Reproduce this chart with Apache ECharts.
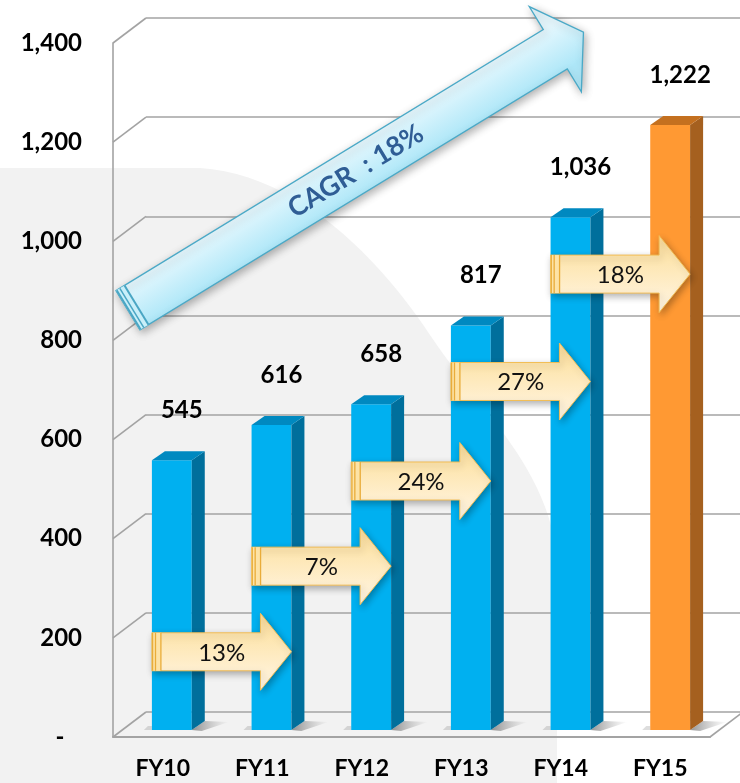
<!DOCTYPE html>
<html><head><meta charset="utf-8">
<script src="https://cdn.jsdelivr.net/npm/echarts@6/dist/echarts.min.js"></script>
<style>html,body{margin:0;padding:0;background:#fff}#c{width:740px;height:783px}</style>
</head><body><div id="c"></div>
<script>
// ---- data ----
const categories = ['FY10', 'FY11', 'FY12', 'FY13', 'FY14', 'FY15'];
const revenue = [545, 616, 658, 817, 1036, 1222];
const growthLabels = ['13%', '7%', '24%', '27%', '18%'];
const growthLevels = [158, 331, 503, 704, 921];
const yTicks = [0, 200, 400, 600, 800, 1000, 1200, 1400];
const cagrText = ['CAGR  : 18%'];
const cagrStart = [0, 848];
const cagrEnd = [4, 1410];

// ---- layout ----
const DX = 33, DY = 25;
const FRONT = {left: 113, top: 43, right: 30, bottom: 46};
const BACK = {left: FRONT.left + DX, top: FRONT.top - DY, right: 0, bottom: FRONT.bottom + DY};
const BARS = {left: 122, top: 37, right: 20, bottom: 53};
const FONT = 'Lato, "Open Sans", sans-serif';
const GRID_COLOR = '#a3a3a3';

// decorative background shape (slide backdrop)
function bez(p0, p1, p2, p3, n) {
  const out = [];
  for (let k = 1; k <= n; k++) {
    const t = k / n, s = 1 - t;
    out.push([s*s*s*p0[0] + 3*s*s*t*p1[0] + 3*s*t*t*p2[0] + t*t*t*p3[0],
              s*s*s*p0[1] + 3*s*s*t*p1[1] + 3*s*t*t*p2[1] + t*t*t*p3[1]]);
  }
  return out;
}
const bgPts = [[0, 168], [200, 168]]
  .concat(bez([200, 168], [300, 175], [380, 260], [430, 335], 24))
  .concat(bez([430, 335], [480, 410], [550, 470], [557, 560], 24))
  .concat([[557, 783], [0, 783]]);

const chart = echarts.init(document.getElementById('c'), null, {renderer: 'canvas'});

function fmt(v) { return v.toLocaleString('en-US'); }

const option = {
  backgroundColor: '#ffffff',
  animation: false,
  graphic: {
    elements: [{
      type: 'polygon', z: -100, silent: true,
      shape: {points: bgPts},
      style: {fill: '#f2f2f2'}
    }]
  },
  grid: [
    Object.assign({containLabel: false}, BACK),
    Object.assign({containLabel: false}, FRONT),
    Object.assign({containLabel: false}, BARS)
  ],
  xAxis: [
    {gridIndex: 0, type: 'value', min: 0, max: 1, show: false},
    {gridIndex: 1, type: 'category', data: categories,
      axisLine: {lineStyle: {color: GRID_COLOR, width: 2}}, axisTick: {show: false},
      axisLabel: {margin: 20, fontFamily: FONT, fontWeight: 'bold', fontSize: 23, color: '#000'}},
    {gridIndex: 2, type: 'category', data: categories, show: false}
  ],
  yAxis: [
    {gridIndex: 0, type: 'value', min: 0, max: 1400, interval: 200,
      axisLine: {show: false}, axisTick: {show: false}, axisLabel: {show: false},
      splitLine: {lineStyle: {color: GRID_COLOR, width: 1.6}}},
    {gridIndex: 1, type: 'value', min: 0, max: 1400, interval: 200,
      axisLine: {show: true, lineStyle: {color: GRID_COLOR, width: 1.6}}, axisTick: {show: false},
      splitLine: {show: false},
      axisLabel: {margin: 31, padding: [6, 0, 0, 0], fontFamily: FONT, fontWeight: 'bold', fontSize: 24, color: '#000',
        formatter: v => v === 0 ? '-   ' : fmt(v)}},
    {gridIndex: 2, type: 'value', min: 0, max: 1400, show: false}
  ],
  series: [
    // side-wall depth lines
    {
      type: 'custom', xAxisIndex: 1, yAxisIndex: 1, clip: false, z: 1, silent: true,
      data: yTicks.map(v => [0, v]),
      renderItem: function (params, api) {
        const cs = params.coordSys;
        const v = api.value(1);
        const y = api.coord([0, v])[1];
        const children = [{type: 'line', shape: {x1: cs.x, y1: y, x2: cs.x + DX, y2: y - DY},
          style: {stroke: GRID_COLOR, lineWidth: 1.6}}];
        if (v === 0) {
          children.push({type: 'line', shape: {x1: cs.x + cs.width, y1: y, x2: cs.x + cs.width + DX, y2: y - DY},
            style: {stroke: GRID_COLOR, lineWidth: 1.6}});
        }
        return {type: 'group', children: children};
      }
    },
    // 3D bars
    {
      type: 'custom', xAxisIndex: 2, yAxisIndex: 2, clip: false, z: 3, silent: true,
      data: revenue.map((v, i) => [i, v]),
      renderItem: function (params, api) {
        const i = api.value(0), v = api.value(1);
        const base = api.coord([i, 0]);
        const top = api.coord([i, v]);
        const band = api.size([1, 0])[0];
        const w = band * 0.4;
        const dx = 13, dy = 9;
        const xl = base[0] - w / 2, xr = base[0] + w / 2;
        const y0 = base[1], y1 = top[1];
        const last = i === revenue.length - 1;
        const cFront = last ? '#ff9933' : '#00b0f0';
        const cSide = last ? '#a5601f' : '#006f9c';
        const cTop = last ? '#c4701f' : '#0089c0';
        return {
          type: 'group', children: [
            {type: 'polygon', shape: {points: [[xr, y0], [xr + dx, y0 - dy], [xr + dx + 24, y0 - dy + 1], [xr + 10, y0 + 1]]},
              style: {fill: new echarts.graphic.LinearGradient(0, 0, 1, 0, [
                {offset: 0, color: 'rgba(60,60,60,0.55)'}, {offset: 1, color: 'rgba(120,120,120,0)'}])}},
            {type: 'polygon', shape: {points: [[xl - 8, y0], [xl, y0], [xl, y0 - 4], [xl - 4, y0 - 4]]},
              style: {fill: 'rgba(120,120,120,0.25)'}},
            {type: 'rect', shape: {x: xl, y: y1, width: w, height: y0 - y1}, style: {fill: cFront}},
            {type: 'polygon', shape: {points: [[xr, y1], [xr + dx, y1 - dy], [xr + dx, y0 - dy], [xr, y0]]}, style: {fill: cSide}},
            {type: 'polygon', shape: {points: [[xl, y1], [xl + dx, y1 - dy], [xr + dx, y1 - dy], [xr, y1]]}, style: {fill: cTop}},
            {type: 'text', x: base[0] + 10, y: y1 - 50,
              style: {text: fmt(v), fill: '#000', font: 'bold 24px ' + FONT, align: 'center', verticalAlign: 'middle',
                textAlign: 'center', textVerticalAlign: 'middle'}}
          ]
        };
      }
    },
    // CAGR arrow
    {
      type: 'custom', xAxisIndex: 2, yAxisIndex: 2, clip: false, z: 4, silent: true,
      data: [[cagrStart[0], cagrStart[1], cagrEnd[0], cagrEnd[1]]],
      renderItem: function (params, api) {
        const band = api.size([1, 0])[0];
        const A = api.coord([api.value(0), api.value(1)]);
        const B = api.coord([api.value(2), api.value(3)]);
        A[0] -= band * 0.44;
        B[0] += band * 0.13;
        const L = Math.hypot(B[0] - A[0], B[1] - A[1]);
        const u = [(B[0] - A[0]) / L, (B[1] - A[1]) / L];
        const n = [u[1], -u[0]];
        const hw = 23, hh = 50, hl = 33;
        const P = (p, a, b) => [p[0] + u[0] * a + n[0] * b, p[1] + u[1] * a + n[1] * b];
        const baseC = P(B, -hl, 0);
        const pts = [P(A, 0, hw), P(baseC, 0, hw), P(baseC, 0, hh), B, P(baseC, 0, -hh), P(baseC, 0, -hw), P(A, 0, -hw)];
        const g1 = P(A, 0, hw), g2 = P(A, 0, -hw);
        const stripeColor = '#4aa6c4';
        const stripe = (off, wdt) => ({type: 'line', shape: {x1: P(A, off, hw)[0], y1: P(A, off, hw)[1], x2: P(A, off, -hw)[0], y2: P(A, off, -hw)[1]},
          style: {stroke: stripeColor, lineWidth: wdt}});
        const mid = [(A[0] + B[0]) / 2, (A[1] + B[1]) / 2];
        const ang = Math.atan2(A[1] - B[1], B[0] - A[0]);
        return {
          type: 'group', children: [
            {type: 'polygon', shape: {points: pts},
              style: {fill: new echarts.graphic.LinearGradient(g1[0], g1[1], g2[0], g2[1], [
                {offset: 0, color: '#e6f8fe'}, {offset: 1, color: '#aee7f8'}], true),
                stroke: '#4aa9c7', lineWidth: 1.3, shadowBlur: 8, shadowColor: 'rgba(0,0,0,0.3)', shadowOffsetX: 2, shadowOffsetY: 3}},
            {type: 'polygon', shape: {points: [P(A, 0, hw), P(A, 10, hw), P(A, 10, -hw), P(A, 0, -hw)]},
              style: {fill: '#c9eff9'}},
            stripe(0.8, 2), stripe(4.5, 1.5), stripe(10, 2),
            {type: 'text', x: mid[0], y: mid[1], rotation: ang,
              style: {text: cagrText[0], x: 0, y: 0, fill: '#2f5d95', font: 'bold 27px ' + FONT,
                align: 'center', verticalAlign: 'middle', textAlign: 'center', textVerticalAlign: 'middle'}}
          ]
        };
      }
    },
    // growth arrows
    {
      type: 'custom', xAxisIndex: 2, yAxisIndex: 2, clip: false, z: 5, silent: true,
      data: growthLabels.map((t, i) => [i, growthLevels[i]]),
      renderItem: function (params, api) {
        const i = api.value(0), lvl = api.value(1);
        const band = api.size([1, 0])[0];
        const w = band * 0.4;
        const p0 = api.coord([i, lvl]);
        const p1 = api.coord([i + 1, lvl]);
        const xl = p0[0] - w / 2, tip = p1[0] + w / 2, yc = p0[1];
        const bh = 19, hh = 38.5, hl = 31;
        const hb = tip - hl;
        const pts = [[xl, yc - bh], [hb, yc - bh], [hb, yc - hh], [tip, yc], [hb, yc + hh], [hb, yc + bh], [xl, yc + bh]];
        const line = (x) => ({type: 'line', shape: {x1: x, y1: yc - bh, x2: x, y2: yc + bh}, style: {stroke: '#e9ac3a', lineWidth: 1.3}});
        return {
          type: 'group', children: [
            {type: 'polygon', shape: {points: pts},
              style: {fill: new echarts.graphic.LinearGradient(0, 0, 0, 1, [
                {offset: 0, color: '#fcdc98'}, {offset: 0.3, color: '#fde5ae'}, {offset: 0.75, color: '#fff0d2'}, {offset: 1, color: '#fff5e2'}]),
                stroke: '#f2bd55', lineWidth: 1, shadowBlur: 7, shadowColor: 'rgba(0,0,0,0.3)', shadowOffsetX: 2, shadowOffsetY: 3}},
            {type: 'rect', shape: {x: xl, y: yc - bh, width: 9, height: 2 * bh}, style: {fill: '#fde3a6'}},
            line(xl + 0.7), line(xl + 3.6), line(xl + 9),
            {type: 'text', x: (xl + tip) / 2, y: yc + 1,
              style: {text: growthLabels[params.dataIndex], fill: '#111', font: '24px ' + FONT,
                align: 'center', verticalAlign: 'middle', textAlign: 'center', textVerticalAlign: 'middle'}}
          ]
        };
      }
    }
  ]
};
chart.setOption(option);
</script>
</body></html>
